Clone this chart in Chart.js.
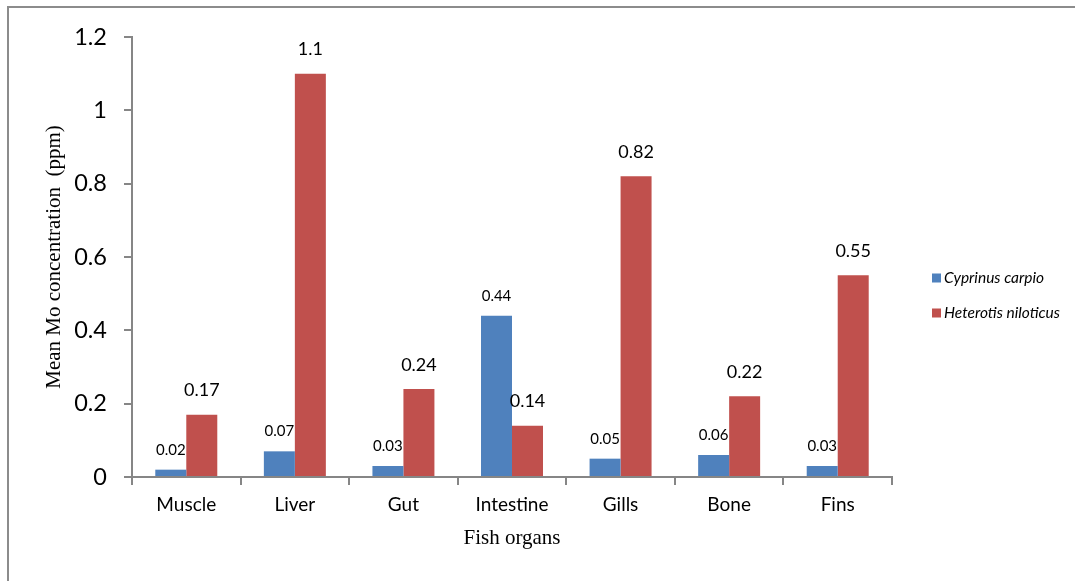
<!DOCTYPE html>
<html>
<head>
<meta charset="utf-8">
<title>Mean Mo concentration in fish organs</title>
<script src="https://cdn.jsdelivr.net/npm/chart.js@4.4.0/dist/chart.umd.min.js"></script>
<style>
  html, body { margin: 0; padding: 0; background: #ffffff; }
  #chart { display: block; }
</style>
</head>
<body>
<canvas id="chart" width="1075" height="581"></canvas>
<script>
// organs on the x axis
const organs = ["Muscle", "Liver", "Gut", "Intestine", "Gills", "Bone", "Fins"];

// mean Mo concentration (ppm) per species
const cyprinus = [0.02, 0.07, 0.03, 0.44, 0.05, 0.06, 0.03];
const heterotis = [0.17, 1.1, 0.24, 0.14, 0.82, 0.22, 0.55];

const seriesNames = ["Cyprinus carpio", "Heterotis niloticus"];

// y axis ticks
const yTicks = [0, 0.2, 0.4, 0.6, 0.8, 1, 1.2];
const yTickLabels = ["0", "0.2", "0.4", "0.6", "0.8", "1", "1.2"];

const BLUE = "#4F81BD";
const RED = "#C0504D";
const AXIS = "#868686";
const SANS = "Lato, 'Liberation Sans', sans-serif";
const SERIF = "'Liberation Serif', 'DejaVu Serif', serif";

// value labels over the bars, axis titles, legend and outer frame
const extras = {
  id: "extras",
  afterDatasetsDraw(chart) {
    const ctx = chart.ctx;
    ctx.save();
    ctx.textAlign = "center";
    ctx.textBaseline = "middle";
    ctx.fillStyle = "#000";
    chart.data.datasets.forEach((ds, i) => {
      const meta = chart.getDatasetMeta(i);
      const size = i === 0 ? 15 : 18;
      const gap = i === 0 ? 20 : 24;
      ctx.font = size + "px " + SANS;
      meta.data.forEach((bar, j) => {
        ctx.fillText(String(ds.data[j]), bar.x, bar.y - gap);
      });
    });
    ctx.restore();
  },
  afterDraw(chart) {
    const ctx = chart.ctx;
    const area = chart.chartArea;
    ctx.save();

    // frame
    ctx.strokeStyle = "#8c8c8c";
    ctx.lineWidth = 2;
    ctx.strokeRect(8, 7, 1200, 700);

    // axis titles
    ctx.fillStyle = "#000";
    ctx.font = "21px " + SERIF;
    ctx.textAlign = "center";
    ctx.textBaseline = "middle";
    ctx.fillText("Fish organs", (area.left + area.right) / 2, 538);
    ctx.translate(54, (area.top + area.bottom) / 2);
    ctx.rotate(-Math.PI / 2);
    ctx.fillText("Mean Mo concentration  (ppm)", 0, 0);
    ctx.setTransform(1, 0, 0, 1, 0, 0);

    // legend
    const colors = [BLUE, RED];
    const rows = [278, 313];
    ctx.font = "italic 15.5px " + SANS;
    ctx.textAlign = "left";
    seriesNames.forEach((name, i) => {
      ctx.fillStyle = colors[i];
      ctx.fillRect(932, rows[i] - 4.5, 9, 9);
      ctx.fillStyle = "#000";
      ctx.fillText(name, 944, rows[i]);
    });
    ctx.restore();
  }
};

new Chart(document.getElementById("chart"), {
  type: "bar",
  data: {
    labels: organs,
    datasets: [
      {
        label: seriesNames[0],
        data: cyprinus,
        backgroundColor: BLUE,
        categoryPercentage: 0.571,
        barPercentage: 1,
      },
      {
        label: seriesNames[1],
        data: heterotis,
        backgroundColor: RED,
        categoryPercentage: 0.571,
        barPercentage: 1,
      },
    ],
  },
  options: {
    responsive: false,
    animation: false,
    layout: {
      padding: { left: 0, top: 37, right: 183, bottom: 0 },
    },
    plugins: {
      legend: { display: false },
      tooltip: { enabled: false },
    },
    scales: {
      x: {
        grid: {
          offset: true,
          drawOnChartArea: false,
          drawTicks: true,
          tickLength: 8,
          color: AXIS,
          lineWidth: 2,
        },
        border: { color: AXIS, width: 2 },
        ticks: {
          color: "#000",
          font: { family: SANS, size: 19 },
          padding: 8,
          maxRotation: 0,
        },
        afterFit: (scale) => { scale.height = 104; },
      },
      y: {
        min: 0,
        max: 1.2,
        afterBuildTicks: (scale) => {
          scale.ticks = yTicks.map((v) => ({ value: v }));
        },
        grid: {
          drawOnChartArea: false,
          drawTicks: true,
          tickLength: 8,
          color: AXIS,
          lineWidth: 2,
        },
        border: { color: AXIS, width: 2 },
        ticks: {
          color: "#000",
          font: { family: SANS, size: 23.5 },
          padding: 17,
          callback: (value, index) => yTickLabels[index],
        },
        afterFit: (scale) => { scale.width = 132; },
      },
    },
  },
  plugins: [extras],
});
</script>
</body>
</html>
